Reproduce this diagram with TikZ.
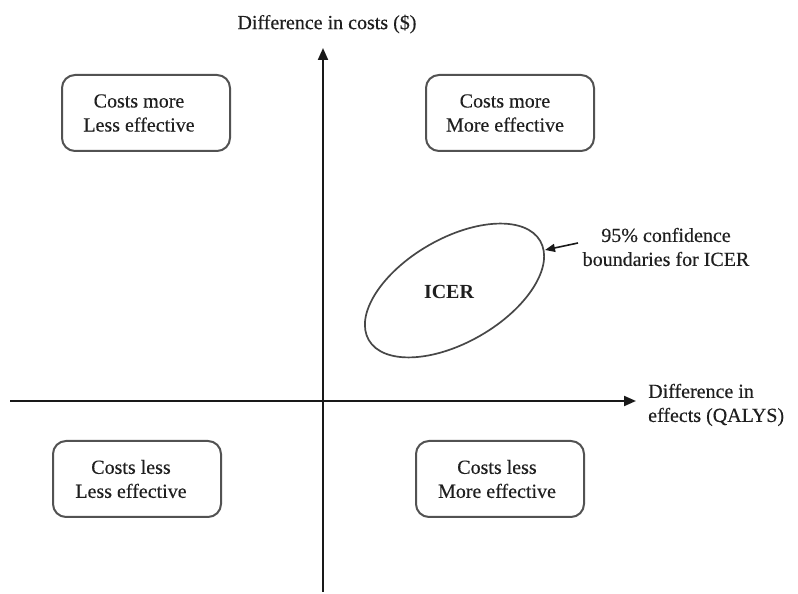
\documentclass[tikz,border=0pt]{standalone}
\usepackage{fontspec}
\setmainfont{Liberation Serif}
\usetikzlibrary{arrows.meta}
\begin{document}
\begin{tikzpicture}[x=1pt,y=1pt,
  quadbox/.style={draw=black!68, line width=2pt, rounded corners=13pt, minimum width=168pt, minimum height=76pt, inner sep=0pt},
  txt/.style={font=\fontsize{20}{24}\selectfont\addfontfeature{FakeBold=0.35}, align=center, inner sep=0pt, text=black!88},
  axis/.style={line width=2pt, black!90, -{Triangle[length=12pt,width=10pt]}},
  pointer/.style={line width=1.6pt, black!90, -{Triangle[length=10pt,width=8pt]}}]
\useasboundingbox (0,0) rectangle (798,594);
% axes
\coordinate (ybot) at (323,2);
\coordinate (ytop) at (323,546);
\coordinate (xleft) at (10,193);
\coordinate (xright) at (636,193);
\draw[axis] (ybot) -- (ytop);
\draw[axis] (xleft) -- (xright);
\node[txt] (ylab) at (327,570) {Difference in costs (\$)};
\node[txt, anchor=west, align=left] (xlab) at (648,189) {Difference in\\effects (QALYS)};
% quadrant boxes
\node[quadbox] (tl) at (146,481) {};
\node[quadbox] (tr) at (510,481) {};
\node[quadbox] (bl) at (137,115) {};
\node[quadbox] (br) at (500,115) {};
\node[txt] (tlt) at (139,481) {Costs more\\Less effective};
\node[txt] (trt) at (505,481) {Costs more\\More effective};
\node[txt] (blt) at (131,115) {Costs less\\Less effective};
\node[txt] (brt) at (497,115) {Costs less\\More effective};
% ellipse
\draw[black!72, line width=1.7pt] (454.5,303.5) ellipse[x radius=99pt, y radius=52pt, rotate=30];
\coordinate (ellr) at (545,344);
\node[txt, font=\fontsize{20}{24}\selectfont\bfseries] (icer) at (449,302) {ICER};
\node[txt] (ann) at (666,347) {95\% confidence\\boundaries for ICER};
\coordinate (annstart) at (578,351);
\draw[pointer] (annstart) -- (ellr);
\end{tikzpicture}
\end{document}
